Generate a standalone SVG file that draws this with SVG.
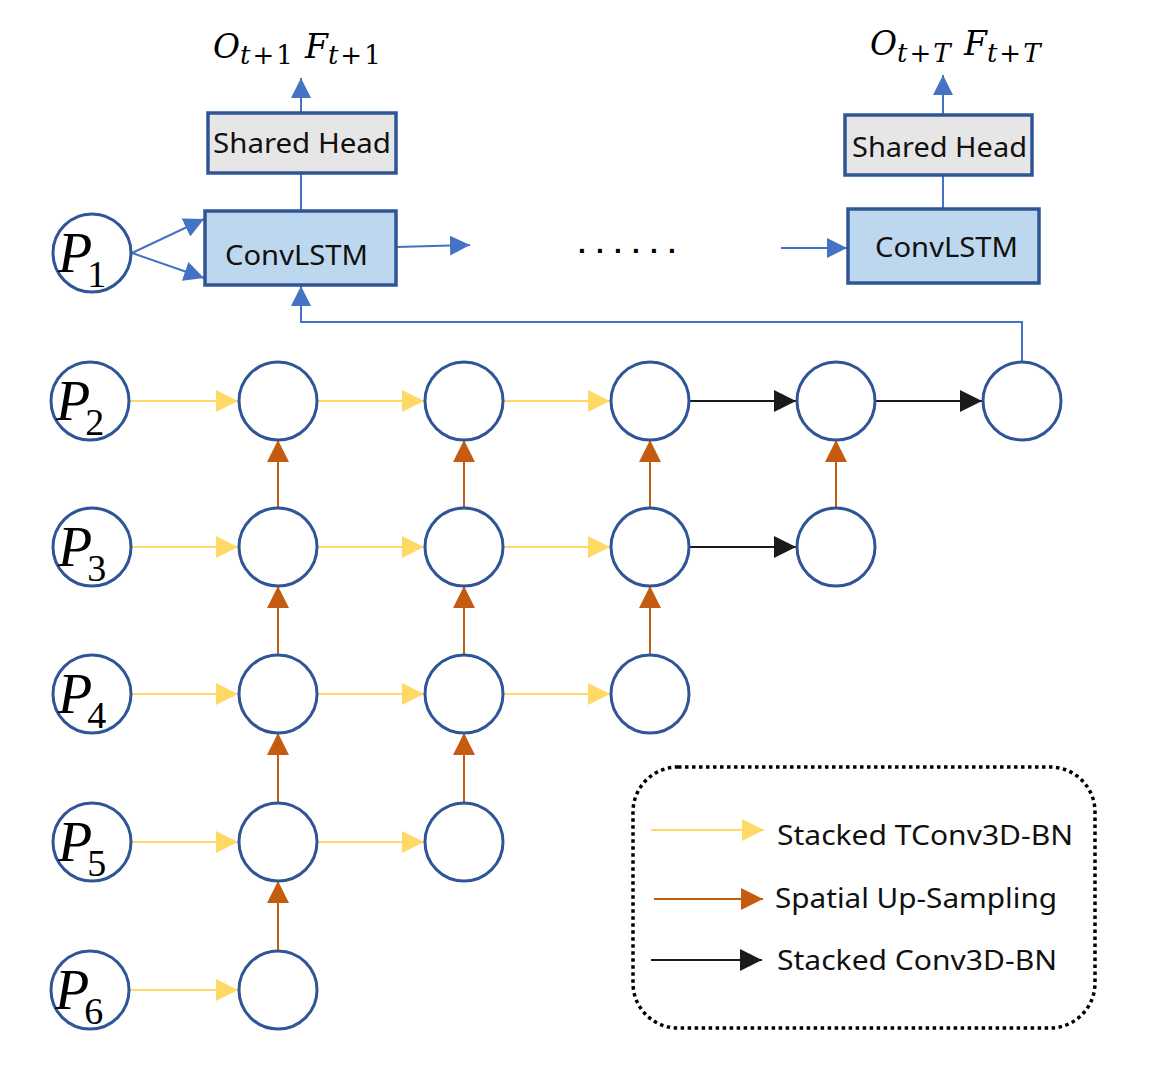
<svg xmlns="http://www.w3.org/2000/svg" width="1168" height="1068" viewBox="0 0 1168 1068">
<defs>
<marker id="ay" viewBox="0 0 10 10" refX="10" refY="5" markerWidth="22" markerHeight="22" markerUnits="userSpaceOnUse" orient="auto"><path d="M0,0L10,5L0,10Z" fill="#ffd966"/></marker>
<marker id="ao" viewBox="0 0 10 10" refX="10" refY="5" markerWidth="22" markerHeight="22" markerUnits="userSpaceOnUse" orient="auto"><path d="M0,0L10,5L0,10Z" fill="#c55a11"/></marker>
<marker id="ak" viewBox="0 0 10 10" refX="10" refY="5" markerWidth="22" markerHeight="22" markerUnits="userSpaceOnUse" orient="auto"><path d="M0,0L10,5L0,10Z" fill="#1a1a1a"/></marker>
<marker id="ab" viewBox="0 0 10 10" refX="10" refY="5" markerWidth="20" markerHeight="20" markerUnits="userSpaceOnUse" orient="auto"><path d="M0,0L10,5L0,10Z" fill="#4472c4"/></marker>
</defs>
<style>
.c{fill:#fff;stroke:#2f5597;stroke-width:3}
.y{stroke:#ffd966;stroke-width:2;fill:none;marker-end:url(#ay)}
.o{stroke:#c55a11;stroke-width:2;fill:none;marker-end:url(#ao)}
.k{stroke:#1a1a1a;stroke-width:2;fill:none;marker-end:url(#ak)}
.b{stroke:#4472c4;stroke-width:2;fill:none}
.ba{stroke:#4472c4;stroke-width:2;fill:none;marker-end:url(#ab)}
.lstm{fill:#bdd7ee;stroke:#2f5597;stroke-width:3.5}
.head{fill:#e7e6e6;stroke:#2f5597;stroke-width:3.5}
.t{font-family:"Noto Sans","Liberation Sans",sans-serif;font-size:28px;fill:#111}
.m{font-family:"DejaVu Serif",serif;font-style:italic;font-size:33px;fill:#000}
.sub{font-size:26px}
.up{font-style:normal}
.p{font-family:"Liberation Serif",serif;font-style:italic;font-size:56px;fill:#000}
.ps{font-style:normal;font-size:38px}
</style>

<g id="connectors">
<line class="ba" x1="132" y1="253" x2="204" y2="219"/>
<line class="ba" x1="132" y1="253" x2="204" y2="278"/>
<line class="ba" x1="396" y1="247" x2="470" y2="245"/>
<line class="ba" x1="781" y1="248" x2="847" y2="248"/>
<line class="b" x1="301" y1="211" x2="301" y2="173"/>
<line class="ba" x1="301" y1="113" x2="301" y2="78"/>
<line class="b" x1="943" y1="209" x2="943" y2="175"/>
<line class="ba" x1="943" y1="115" x2="943" y2="75"/>
<polyline class="ba" points="1022,362 1022,322 301,322 301,286"/>
<line class="y" x1="130" y1="401" x2="238" y2="401"/>
<line class="y" x1="317" y1="401" x2="424" y2="401"/>
<line class="y" x1="503" y1="401" x2="610" y2="401"/>
<line class="y" x1="131" y1="547" x2="238" y2="547"/>
<line class="y" x1="317" y1="547" x2="424" y2="547"/>
<line class="y" x1="503" y1="547" x2="610" y2="547"/>
<line class="y" x1="131" y1="694" x2="238" y2="694"/>
<line class="y" x1="317" y1="694" x2="424" y2="694"/>
<line class="y" x1="503" y1="694" x2="610" y2="694"/>
<line class="y" x1="131" y1="842" x2="238" y2="842"/>
<line class="y" x1="317" y1="842" x2="424" y2="842"/>
<line class="y" x1="129" y1="990" x2="238" y2="990"/>
<line class="k" x1="689" y1="401" x2="796" y2="401"/>
<line class="k" x1="875" y1="401" x2="982" y2="401"/>
<line class="k" x1="689" y1="547" x2="796" y2="547"/>
<line class="o" x1="278" y1="508" x2="278" y2="440"/>
<line class="o" x1="278" y1="655" x2="278" y2="586"/>
<line class="o" x1="278" y1="803" x2="278" y2="733"/>
<line class="o" x1="278" y1="951" x2="278" y2="881"/>
<line class="o" x1="464" y1="508" x2="464" y2="440"/>
<line class="o" x1="464" y1="655" x2="464" y2="586"/>
<line class="o" x1="464" y1="803" x2="464" y2="733"/>
<line class="o" x1="650" y1="508" x2="650" y2="440"/>
<line class="o" x1="650" y1="655" x2="650" y2="586"/>
<line class="o" x1="836" y1="508" x2="836" y2="440"/>
</g>

<g id="out1">
<text class="m" x="213" y="58">O<tspan class="sub" dy="6">t</tspan><tspan class="sub up" dx="2">+</tspan><tspan class="sub up" dx="2">1</tspan><tspan dy="-6" x="305">F</tspan><tspan class="sub" dy="6">t</tspan><tspan class="sub up" dx="2">+</tspan><tspan class="sub up" dx="2">1</tspan></text>
</g>
<g id="out2">
<text class="m" x="870" y="55">O<tspan class="sub" dy="7">t</tspan><tspan class="sub up" dx="2">+</tspan><tspan class="sub" dx="2">T</tspan><tspan dy="-7" x="964">F</tspan><tspan class="sub" dy="7">t</tspan><tspan class="sub up" dx="2">+</tspan><tspan class="sub" dx="2">T</tspan></text>
</g>

<g id="head1"><rect class="head" x="208" y="113" width="188" height="60"/><text class="t" x="213" y="153" textLength="178" lengthAdjust="spacingAndGlyphs">Shared Head</text></g>
<g id="lstm1"><rect class="lstm" x="205" y="211" width="191" height="74"/><text class="t" x="225" y="265" textLength="143" lengthAdjust="spacingAndGlyphs">ConvLSTM</text></g>
<g id="head2"><rect class="head" x="845" y="115" width="187" height="60"/><text class="t" x="852" y="157" textLength="175" lengthAdjust="spacingAndGlyphs">Shared Head</text></g>
<g id="lstm2"><rect class="lstm" x="848" y="209" width="191" height="74"/><text class="t" x="875" y="257" textLength="143" lengthAdjust="spacingAndGlyphs">ConvLSTM</text></g>
<g id="dots"><text x="578" y="253" font-family="Liberation Sans, sans-serif" font-size="28" font-weight="bold" letter-spacing="10.2" fill="#000">......</text></g>

<g id="p1"><circle class="c" cx="92" cy="253" r="39"/><text class="p" x="58" y="272">P<tspan class="ps" dy="15" dx="-5">1</tspan></text></g>
<g id="p2"><circle class="c" cx="90" cy="401" r="39"/><text class="p" x="56" y="420">P<tspan class="ps" dy="15" dx="-5">2</tspan></text></g>
<g id="p3"><circle class="c" cx="92" cy="547" r="39"/><text class="p" x="58" y="566">P<tspan class="ps" dy="15" dx="-5">3</tspan></text></g>
<g id="p4"><circle class="c" cx="92" cy="694" r="39"/><text class="p" x="58" y="713">P<tspan class="ps" dy="15" dx="-5">4</tspan></text></g>
<g id="p5"><circle class="c" cx="92" cy="842" r="39"/><text class="p" x="58" y="861">P<tspan class="ps" dy="15" dx="-5">5</tspan></text></g>
<g id="p6"><circle class="c" cx="90" cy="990" r="39"/><text class="p" x="55" y="1009">P<tspan class="ps" dy="15" dx="-5">6</tspan></text></g>

<g id="n21"><circle class="c" cx="278" cy="401" r="39"/></g>
<g id="n22"><circle class="c" cx="464" cy="401" r="39"/></g>
<g id="n23"><circle class="c" cx="650" cy="401" r="39"/></g>
<g id="n24"><circle class="c" cx="836" cy="401" r="39"/></g>
<g id="n25"><circle class="c" cx="1022" cy="401" r="39"/></g>
<g id="n31"><circle class="c" cx="278" cy="547" r="39"/></g>
<g id="n32"><circle class="c" cx="464" cy="547" r="39"/></g>
<g id="n33"><circle class="c" cx="650" cy="547" r="39"/></g>
<g id="n34"><circle class="c" cx="836" cy="547" r="39"/></g>
<g id="n41"><circle class="c" cx="278" cy="694" r="39"/></g>
<g id="n42"><circle class="c" cx="464" cy="694" r="39"/></g>
<g id="n43"><circle class="c" cx="650" cy="694" r="39"/></g>
<g id="n51"><circle class="c" cx="278" cy="842" r="39"/></g>
<g id="n52"><circle class="c" cx="464" cy="842" r="39"/></g>
<g id="n61"><circle class="c" cx="278" cy="990" r="39"/></g>

<g id="legend">
<rect x="633" y="767" width="462" height="261" rx="45" fill="none" stroke="#000" stroke-width="3.5" stroke-dasharray="3.5,3.5"/>
<line class="y" x1="651" y1="830" x2="764" y2="830"/>
<line class="o" x1="654" y1="899" x2="763" y2="899"/>
<line class="k" x1="651" y1="960" x2="762" y2="960"/>
<text class="t" x="777" y="845" textLength="296" lengthAdjust="spacingAndGlyphs">Stacked TConv3D-BN</text>
<text class="t" x="775" y="908" textLength="282" lengthAdjust="spacingAndGlyphs">Spatial Up-Sampling</text>
<text class="t" x="777" y="970" textLength="280" lengthAdjust="spacingAndGlyphs">Stacked Conv3D-BN</text>
</g>
</svg>
